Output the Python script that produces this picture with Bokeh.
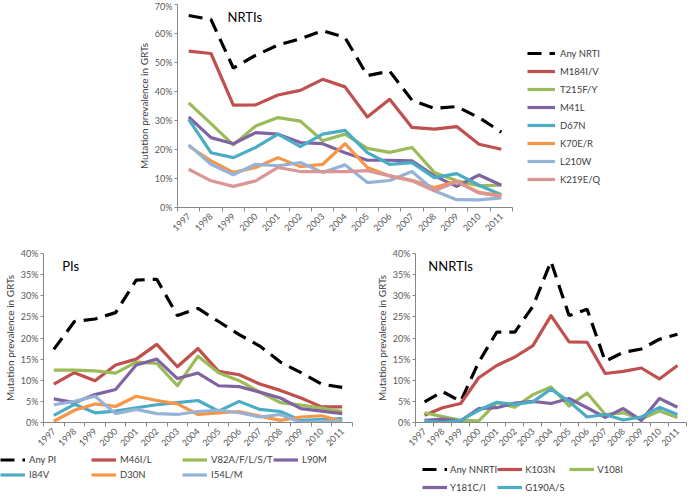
import math
from bokeh.plotting import figure
from bokeh.models import (Legend, LegendItem, FixedTicker, Label,
                          Range1d, PrintfTickFormatter)
from bokeh.layouts import column, row
from bokeh.embed import file_html
from bokeh.resources import INLINE

# ---------------- data ----------------
years = ["1997", "1998", "1999", "2000", "2001", "2002", "2003", "2004",
         "2005", "2006", "2007", "2008", "2009", "2010", "2011"]

nrti_names = ["Any NRTI", "M184I/V", "T215F/Y", "M41L", "D67N", "K70E/R", "L210W", "K219E/Q"]
any_nrti = [66.2, 64.8, 48.1, 52.5, 56.0, 58.2, 61.0, 58.6, 45.5, 47.0, 37.0, 34.2, 34.8, 31.0, 26.0]
m184iv = [53.9, 53.1, 35.3, 35.4, 38.8, 40.4, 44.2, 41.6, 31.2, 37.3, 27.6, 27.0, 27.9, 21.8, 20.1]
t215fy = [36.1, 28.9, 21.6, 28.1, 31.0, 29.8, 23.0, 25.3, 20.4, 19.0, 20.7, 12.1, 9.2, 7.5, 7.7]
m41l = [31.2, 24.1, 22.0, 25.8, 25.3, 22.4, 22.0, 18.9, 16.3, 16.3, 16.1, 10.9, 7.3, 11.2, 7.7]
d67n = [30.4, 18.9, 17.2, 20.7, 25.3, 21.0, 25.3, 26.6, 18.9, 14.9, 15.5, 10.3, 11.7, 7.7, 4.4]
k70er = [21.2, 16.1, 12.1, 13.8, 17.2, 14.1, 14.9, 22.0, 13.8, 10.9, 9.4, 6.9, 9.0, 5.2, 4.1]
l210w = [21.6, 14.9, 11.3, 14.9, 14.4, 15.5, 12.1, 14.7, 8.6, 9.3, 12.4, 5.8, 2.7, 2.6, 3.3]
k219eq = [13.2, 9.2, 7.3, 9.2, 13.8, 12.4, 12.4, 12.4, 12.7, 10.9, 9.2, 5.8, 8.9, 5.0, 3.8]

pi_names = ["Any PI", "M46I/L", "V82A/F/L/S/T", "L90M", "I84V", "D30N", "I54L/M"]
any_pi = [17.3, 23.9, 24.5, 26.0, 33.7, 33.9, 25.3, 27.0, 23.9, 20.8, 18.1, 14.3, 11.8, 9.1, 8.3]
m46il = [9.1, 11.8, 9.9, 13.6, 15.0, 18.5, 13.2, 17.5, 12.1, 11.3, 9.1, 7.6, 5.8, 3.7, 3.7]
v82a = [12.4, 12.4, 12.2, 11.7, 14.3, 14.0, 8.7, 15.7, 11.8, 9.9, 7.2, 4.7, 4.1, 3.4, 2.6]
l90m = [5.6, 4.7, 6.6, 7.8, 13.6, 15.0, 10.4, 11.7, 8.7, 8.5, 7.2, 5.8, 3.3, 2.7, 2.1]
i84v = [1.7, 4.3, 2.3, 2.7, 3.5, 4.2, 4.7, 5.2, 2.7, 5.0, 3.1, 2.6, 0.5, 0.7, 0.9]
d30n = [0.3, 2.9, 4.4, 3.8, 6.2, 5.2, 4.4, 1.9, 2.3, 2.6, 1.5, 0.5, 1.3, 1.6, 0.2]
i54lm = [4.2, 5.0, 6.2, 2.1, 3.1, 2.1, 1.9, 2.6, 2.9, 2.3, 1.3, 1.9, 0.0, 0.3, 0.3]

nnrti_names = ["Any NNRTI", "K103N", "V108I", "Y181C/I", "G190A/S"]
any_nnrti = [4.9, 7.3, 5.0, 14.3, 21.4, 21.4, 27.5, 38.1, 25.3, 26.8, 14.5, 16.6, 17.4, 19.7, 20.9]
k103n = [1.7, 3.5, 4.5, 10.6, 13.5, 15.5, 18.2, 25.3, 19.1, 19.0, 11.6, 12.1, 12.9, 10.3, 13.5]
v108i = [2.3, 1.4, 0.5, 0.4, 4.7, 3.6, 6.6, 8.4, 3.9, 7.0, 1.9, 2.3, 0.8, 2.7, 1.2]
y181ci = [0.5, 0.8, 0.4, 3.3, 3.5, 4.6, 5.0, 4.5, 5.7, 3.5, 1.2, 3.3, 0.5, 5.7, 3.6]
g190as = [0.4, 0.0, 0.5, 2.9, 4.8, 4.3, 4.9, 7.9, 5.0, 1.3, 1.9, 0.6, 1.3, 3.6, 1.9]

# ---------------- style ----------------
FONT = "Lato"
C_ANY = "#000000"
C_RED = "#C0504D"
C_GREEN = "#9BBB59"
C_PURPLE = "#8064A2"
C_TEAL = "#4BACC6"
C_ORANGE = "#F79646"
C_LBLUE = "#95B3D7"
C_PINK = "#D99694"
LW = 3.2
DASH = "14 8"

xs = [i + 0.5 for i in range(len(years))]


def make_chart(width, height, ymax, ystep, borders, series, colors):
    bl, br, bt, bb = borders
    p = figure(width=width, height=height, output_backend="svg", toolbar_location=None,
               x_range=Range1d(0, len(years)), y_range=Range1d(0, ymax),
               min_border_left=bl, min_border_right=br, min_border_top=bt, min_border_bottom=bb)
    p.xgrid.visible = False
    p.ygrid.visible = False
    p.outline_line_color = None
    p.background_fill_color = "white"

    xa = p.xaxis[0]
    xa.ticker = FixedTicker(ticks=xs, minor_ticks=list(range(len(years) + 1)))
    xa.major_label_overrides = {x: y for x, y in zip(xs, years)}
    xa.major_tick_out = 0
    xa.major_tick_in = 0
    xa.minor_tick_out = 4
    xa.minor_tick_in = 0
    xa.minor_tick_line_color = "#868686"
    xa.axis_line_color = "#868686"
    xa.major_label_orientation = math.pi / 4
    xa.major_label_standoff = 3
    xa.major_label_text_font = FONT
    xa.major_label_text_font_size = "9px"
    xa.major_label_text_color = "#595959"

    ya = p.yaxis[0]
    ya.ticker = FixedTicker(ticks=list(range(0, ymax + 1, ystep)), minor_ticks=[])
    ya.formatter = PrintfTickFormatter(format="%d%%")
    ya.major_tick_out = 3
    ya.major_tick_in = 0
    ya.major_tick_line_color = "#868686"
    ya.axis_line_color = "#868686"
    ya.major_label_standoff = 2
    ya.major_label_text_font = FONT
    ya.major_label_text_font_size = "9px"
    ya.major_label_text_color = "#595959"
    ya.axis_label = "Mutation prevalence in GRTs"
    ya.axis_label_text_font = FONT
    ya.axis_label_text_font_size = "10px"
    ya.axis_label_text_font_style = "normal"
    ya.axis_label_text_color = "#404040"
    ya.axis_label_standoff = 2

    for i, (vals, col) in enumerate(zip(series, colors)):
        if i == 0:
            p.line(xs, vals, line_color=col, line_width=LW, line_dash=DASH)
        else:
            p.line(xs, vals, line_color=col, line_width=LW, line_join="round")
    return p


def legend_fig(width, height, names, series, colors, location, row_h, **kw):
    # a figure that only carries the legend (its own copies of the series stay hidden)
    f = figure(width=width, height=height, output_backend="svg", toolbar_location=None,
               x_axis_location=None, y_axis_location=None,
               x_range=Range1d(0, len(years)), y_range=Range1d(0, 100), min_border=0)
    f.xgrid.visible = False
    f.ygrid.visible = False
    f.outline_line_color = None
    items = []
    for i, (nm, vals, col) in enumerate(zip(names, series, colors)):
        if i == 0:
            r = f.line(xs, vals, line_color=col, line_width=LW, line_dash=DASH)
        else:
            r = f.line(xs, vals, line_color=col, line_width=LW)
        r.visible = False
        items.append(LegendItem(label=nm, renderers=[r]))
    leg = Legend(items=items, location=location, margin=0, padding=0, spacing=0,
                 label_text_font=FONT, label_text_font_size="9.5px",
                 label_text_color="#404040", border_line_color=None,
                 background_fill_alpha=0, inactive_fill_alpha=0,
                 glyph_height=row_h, label_height=row_h, **kw)
    f.add_layout(leg)
    return f


nrti_series = [any_nrti, m184iv, t215fy, m41l, d67n, k70er, l210w, k219eq]
pi_series = [any_pi, m46il, v82a, l90m, i84v, d30n, i54lm]
nnrti_series = [any_nnrti, k103n, v108i, y181ci, g190as]
nrti_colors = [C_ANY, C_RED, C_GREEN, C_PURPLE, C_TEAL, C_ORANGE, C_LBLUE, C_PINK]
pi_colors = [C_ANY, C_RED, C_GREEN, C_PURPLE, C_TEAL, C_ORANGE, C_LBLUE]
nnrti_colors = [C_ANY, C_RED, C_GREEN, C_PURPLE, C_TEAL]

# ---------- NRTIs ----------
H1 = 240
p1 = make_chart(514, H1, 70, 10, (177, 2, 4, 33), nrti_series, nrti_colors)
p1.add_layout(Label(x=2.24, y=65.8, text="NRTIs", text_baseline="middle",
                    text_font=FONT, text_font_size="13px", text_color="#000000"))
# frame of this figure is aligned with p1's frame (y 4..207)
lg1 = legend_fig(175, H1, nrti_names, nrti_series, nrti_colors, (13, 19), 18,
                 orientation="vertical", glyph_width=28, label_standoff=5)

# ---------- PIs ----------
H2 = 212
p2 = make_chart(372, H2, 40, 5, (42, 20, 13, 28), pi_series, pi_colors)
p2.add_layout(Label(x=0.91, y=37.0, text="PIs", text_baseline="middle",
                    text_font=FONT, text_font_size="13px", text_color="#000000"))

# ---------- NNRTIs ----------
p3 = make_chart(317, H2, 40, 5, (40, 3, 13, 28), nnrti_series, nnrti_colors)
p3.add_layout(Label(x=0.71, y=37.1, text="NNRTIs", text_baseline="middle",
                    text_font=FONT, text_font_size="13px", text_color="#000000"))

# ---------- legends below ----------
H3 = 500 - H1 - H2
lg2 = legend_fig(372, H3, pi_names, pi_series, pi_colors, (0, H3 - 30), 15,
                 orientation="horizontal", nrows=2, glyph_width=25,
                 label_standoff=4, label_width=62)
lg3 = legend_fig(317, H3, nnrti_names, nnrti_series, nnrti_colors, (50, 4), 18,
                 orientation="horizontal", nrows=2, glyph_width=25,
                 label_standoff=3, label_width=44)

layout = column(row(p1, lg1), row(p2, p3), row(lg2, lg3))
open("out.html", "w").write(file_html(layout, INLINE))
